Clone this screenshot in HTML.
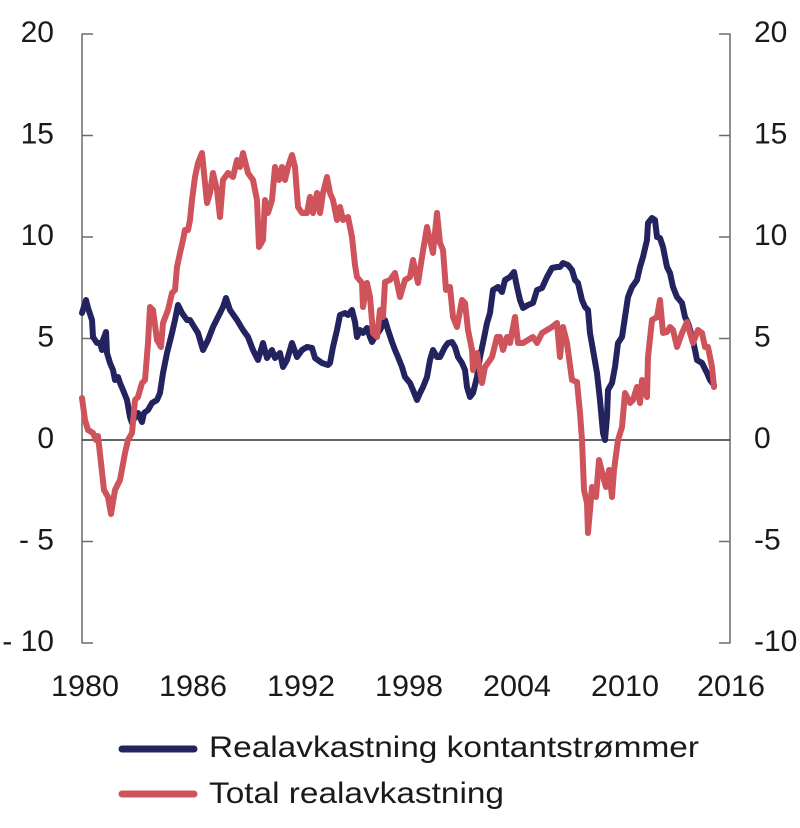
<!DOCTYPE html>
<html>
<head>
<meta charset="utf-8">
<style>
  html, body { margin: 0; padding: 0; background: #ffffff; }
  svg { display: block; }
  text { font-family: "Liberation Sans", "DejaVu Sans", sans-serif; fill: #1a1a1a; }
</style>
</head>
<body>
<svg width="800" height="828" viewBox="0 0 800 828" xmlns="http://www.w3.org/2000/svg">
  <rect width="800" height="828" fill="#ffffff"/>

  <!-- axes -->
  <g stroke="#6b6b6b" stroke-width="1.5" fill="none">
    <line x1="82" y1="33.5" x2="82" y2="643.5"/>
    <line x1="730" y1="33.5" x2="730" y2="643.5"/>
    <line x1="82" y1="34" x2="93" y2="34"/>
    <line x1="82" y1="135.5" x2="93" y2="135.5"/>
    <line x1="82" y1="237" x2="93" y2="237"/>
    <line x1="82" y1="338.5" x2="93" y2="338.5"/>
    <line x1="82" y1="541.5" x2="93" y2="541.5"/>
    <line x1="82" y1="643" x2="93" y2="643"/>
    <line x1="719" y1="34" x2="730" y2="34"/>
    <line x1="719" y1="135.5" x2="730" y2="135.5"/>
    <line x1="719" y1="237" x2="730" y2="237"/>
    <line x1="719" y1="338.5" x2="730" y2="338.5"/>
    <line x1="719" y1="541.5" x2="730" y2="541.5"/>
    <line x1="719" y1="643" x2="730" y2="643"/>
  </g>
  <line x1="82" y1="440" x2="730" y2="440" stroke="#333333" stroke-width="1.6"/>

  <!-- left labels -->
  <g font-size="30" text-anchor="end">
    <text x="54" y="42">20</text>
    <text x="54" y="143.5">15</text>
    <text x="54" y="245">10</text>
    <text x="54" y="346.5">5</text>
    <text x="54" y="448">0</text>
    <text x="54" y="549.5">- 5</text>
    <text x="54" y="651">- 10</text>
  </g>
  <!-- right labels -->
  <g font-size="30" text-anchor="start">
    <text x="754" y="42">20</text>
    <text x="754" y="143.5">15</text>
    <text x="754" y="245">10</text>
    <text x="754" y="346.5">5</text>
    <text x="754" y="448">0</text>
    <text x="754" y="549.5">-5</text>
    <text x="754" y="651">-10</text>
  </g>
  <!-- x labels -->
  <g font-size="30" text-anchor="middle">
    <text x="85" y="696" textLength="68" lengthAdjust="spacingAndGlyphs">1980</text>
    <text x="193" y="696" textLength="68" lengthAdjust="spacingAndGlyphs">1986</text>
    <text x="301" y="696" textLength="68" lengthAdjust="spacingAndGlyphs">1992</text>
    <text x="409" y="696" textLength="68" lengthAdjust="spacingAndGlyphs">1998</text>
    <text x="517" y="696" textLength="68" lengthAdjust="spacingAndGlyphs">2004</text>
    <text x="625" y="696" textLength="68" lengthAdjust="spacingAndGlyphs">2010</text>
    <text x="731" y="696" textLength="68" lengthAdjust="spacingAndGlyphs">2016</text>
  </g>

  <!-- navy series: Realavkastning kontantstrømmer -->
  <polyline fill="none" stroke="#232360" stroke-width="6" stroke-linejoin="round" stroke-linecap="round"
    points="82,313 86,300 88,308 92,320 93,337 97,343 100,343 102,350 103,340 106,332 107,353 110,363 113,370 115,380 118,377 120,383 123,390 127,400 130,417 132,423 135,417 138,413 142,422 144,413 148,410 152,403 157,400 160,393 163,373 167,353 172,333 175,320 178,305 182,313 187,320 190,320 193,325 198,333 203,350 208,340 213,327 218,317 223,307 226,298 230,310 237,320 243,330 248,337 253,350 258,360 263,343 267,358 272,350 275,358 280,353 283,367 287,360 292,343 297,357 302,350 307,347 312,348 315,358 322,363 328,365 330,363 333,347 337,330 340,315 345,313 348,315 352,310 355,322 357,337 360,330 363,333 367,328 370,337 372,342 375,337 380,330 385,320 388,330 392,342 395,350 398,357 402,367 405,377 410,383 413,390 417,400 420,393 423,387 427,377 430,360 433,350 437,357 440,357 445,347 448,343 452,342 455,347 458,357 462,363 465,370 467,387 470,397 473,393 477,377 480,357 483,343 487,323 490,313 493,290 498,287 502,292 505,280 510,277 514,272 517,287 520,300 523,308 528,305 533,303 537,290 542,288 547,277 552,268 557,267 560,267 563,263 568,265 572,270 575,280 578,283 582,300 585,307 588,310 590,333 593,350 597,373 600,400 603,433 605,440 607,417 608,390 612,383 615,367 618,343 622,337 625,317 628,297 632,287 637,280 640,267 643,257 647,240 648,223 652,218 655,220 657,237 660,238 663,247 667,267 670,273 673,287 677,297 682,303 685,317 688,323 693,340 697,360 702,363 707,373 710,380 714,385"/>

  <!-- red series: Total realavkastning -->
  <polyline fill="none" stroke="#cf535a" stroke-width="6" stroke-linejoin="round" stroke-linecap="round"
    points="82,398 85,420 88,430 93,433 96,440 98,436 101,463 104,490 108,497 111,514 115,490 120,480 125,453 128,440 132,433 135,400 138,397 142,383 145,380 148,343 150,307 153,310 157,340 161,347 163,323 168,310 172,293 175,290 177,267 180,253 183,240 185,230 188,230 190,220 192,200 195,177 198,163 202,153 204,173 207,203 210,193 213,173 217,190 220,217 223,180 228,173 233,177 237,160 240,167 243,153 248,173 253,180 257,200 259,247 263,240 265,200 268,213 272,200 275,167 279,180 282,167 285,180 288,167 292,155 295,167 298,207 302,213 307,213 310,197 313,213 317,193 320,213 323,193 327,177 330,193 333,200 337,220 340,207 343,220 348,217 352,237 355,265 357,277 362,283 363,307 367,283 370,297 373,333 377,337 380,310 383,317 385,282 390,280 395,273 400,297 405,280 410,277 413,260 418,283 422,257 427,227 430,240 433,253 437,213 440,243 443,250 446,290 450,287 453,317 457,327 462,300 465,303 468,330 472,350 473,370 477,353 482,383 485,367 490,360 492,357 497,337 500,337 503,350 507,337 510,343 515,317 518,343 523,343 528,340 533,337 537,343 542,333 547,330 552,327 557,323 560,357 563,327 567,343 572,380 577,382 580,413 582,440 584,490 587,503 588,533 592,487 596,497 599,460 604,480 606,487 609,470 612,497 614,470 618,440 622,427 625,393 630,403 633,400 637,387 640,403 642,380 647,397 648,357 652,320 657,317 660,300 663,333 667,332 670,327 673,330 677,347 682,333 687,322 690,333 693,343 698,330 702,333 705,347 708,347 712,367 714,387"/>

  <!-- legend -->
  <line x1="122" y1="749" x2="194" y2="749" stroke="#232360" stroke-width="7" stroke-linecap="round"/>
  <line x1="122" y1="794" x2="194" y2="794" stroke="#cf535a" stroke-width="7" stroke-linecap="round"/>
  <text x="209" y="757" font-size="30" textLength="490" lengthAdjust="spacingAndGlyphs">Realavkastning kontantstrømmer</text>
  <text x="209" y="803" font-size="30" textLength="295" lengthAdjust="spacingAndGlyphs">Total realavkastning</text>
</svg>
</body>
</html>
